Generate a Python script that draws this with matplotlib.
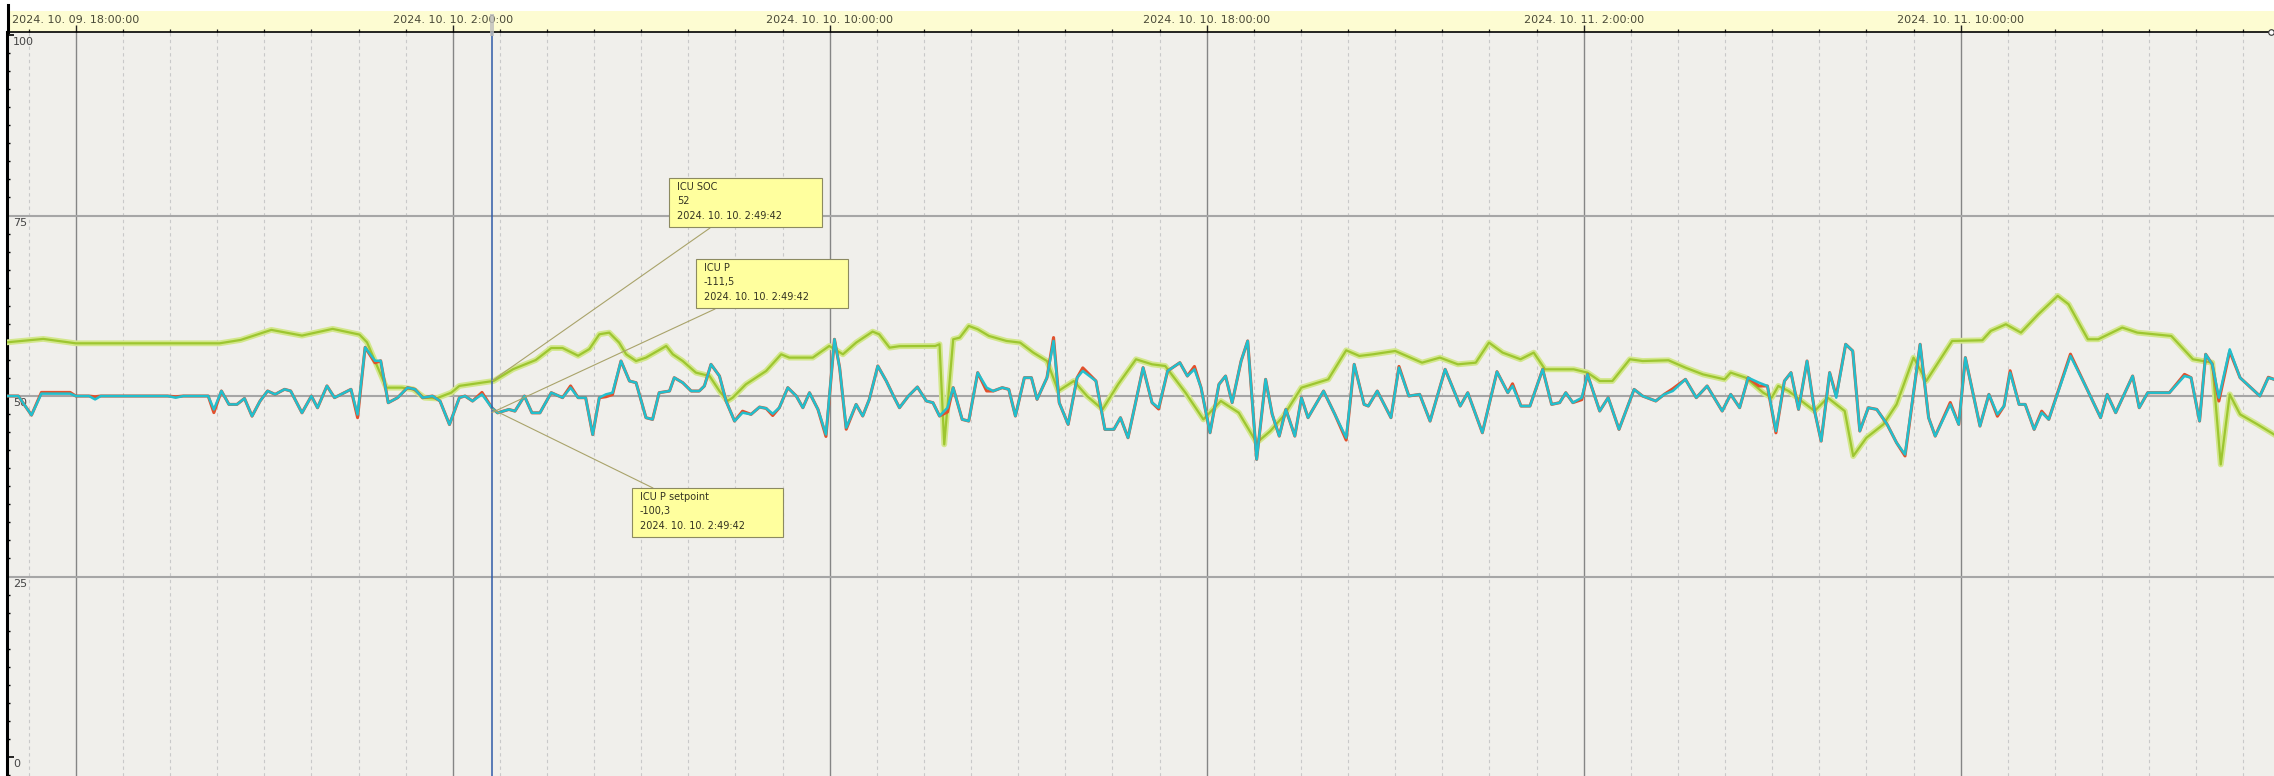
import pandas as pd
import matplotlib
matplotlib.use('Agg')
import matplotlib.pyplot as plt
import matplotlib.dates as mdates
from matplotlib.ticker import MultipleLocator, FuncFormatter
from matplotlib.patches import Rectangle
from matplotlib.lines import Line2D

# time axis: hours counted from 2024-10-09 18:00:00
t0 = pd.Timestamp('2024-10-09 18:00:00')
view_hours = (-1.46, 46.65)
cursor_time = pd.Timestamp('2024-10-10 02:49:42')

soc_hours = [-1.46, -0.69, 0.0, 3.05, 3.50, 4.15, 4.80, 5.45, 6.02, 6.18, 6.59, 6.92, 7.16, 7.40,
             7.65, 7.97, 8.14, 8.87, 9.28, 9.76, 10.09, 10.33, 10.66, 10.90, 11.11, 11.32, 11.53,
             11.68, 11.89, 12.10, 12.53, 12.67, 12.88, 13.16, 13.45, 13.66, 13.83, 13.94, 14.22,
             14.65, 14.97, 15.14, 15.64, 15.99, 16.28, 16.56, 16.91, 17.05, 17.27, 17.48, 18.24,
             18.33, 18.43, 18.62, 18.76, 18.95, 19.14, 19.38, 19.75, 20.04, 20.32, 20.61, 20.85,
             21.18, 21.46, 21.79, 22.12, 22.50, 22.84, 23.12, 23.55, 23.93, 24.30, 24.68, 25.06,
             25.35, 25.63, 26.01, 26.58, 26.96, 27.24, 27.53, 28.00, 28.57, 28.95, 29.33, 29.71,
             29.99, 30.28, 30.66, 30.94, 31.18, 31.79, 32.08, 32.34, 32.61, 32.98, 33.25, 33.80,
             34.16, 34.53, 34.99, 35.12, 35.44, 35.81, 35.99, 36.13, 36.35, 36.90, 37.18, 37.54,
             37.72, 38.00, 38.36, 38.64, 39.00, 39.27, 39.82, 40.46, 40.64, 40.96, 41.28, 41.65,
             42.06, 42.29, 42.70, 42.92, 43.43, 43.75, 44.47, 44.93, 45.34, 45.52, 45.71, 45.93,
             46.30, 46.65]
soc = [57.44, 57.91, 57.30, 57.30, 57.77, 59.16, 58.37, 59.30, 58.51, 57.44, 51.16, 51.16, 50.93, 49.77,
       49.67, 50.47, 51.40, 52.09, 53.72, 54.98, 56.65, 56.65, 55.58, 56.51, 58.55, 58.78, 57.40,
       55.78, 54.85, 55.32, 56.93, 55.78, 54.85, 53.24, 52.77, 50.69, 49.31, 49.77, 51.62,
       53.47, 55.78, 55.32, 55.32, 56.93, 55.78, 57.40, 58.92, 58.55, 56.70, 56.90, 56.93,
       57.17, 43.30, 57.86, 58.09, 59.71, 59.25, 58.32, 57.63, 57.40, 56.01, 54.85, 50.69,
       52.08, 50.00, 48.15, 51.62, 55.09, 54.39, 54.16, 50.46, 46.76, 49.31, 47.69, 43.53,
       45.15, 47.23, 51.16, 52.31, 56.33, 55.55, 55.78, 56.24, 54.62, 55.32, 54.39, 54.62,
       57.40, 56.01, 55.09, 56.01, 53.70, 53.70, 53.24, 52.08, 52.08, 55.09, 54.85, 54.95,
       53.93, 53.00, 52.31, 53.24, 52.54, 50.46, 49.77, 51.39, 50.69, 47.92, 49.77, 47.92,
       41.68, 44.22, 46.07, 48.84, 55.32, 52.08, 57.63, 57.72, 59.02, 59.94, 58.78, 61.33,
       63.87, 62.71, 57.86, 57.86, 59.48, 58.78, 58.32, 55.09, 54.62, 40.52, 50.23, 47.46,
       46.07, 44.68]

p_hours = [-1.46, -1.22, -0.94, -0.73, -0.12, 0.00, 0.28, 0.41, 0.53, 1.95, 2.12, 2.28, 2.81, 2.93,
           3.09, 3.25, 3.42, 3.58, 3.74, 3.91, 4.07, 4.23, 4.43, 4.56, 4.80, 5.00, 5.13, 5.33,
           5.49, 5.70, 5.84, 5.98, 6.14, 6.35, 6.47, 6.63, 6.83, 7.04, 7.20, 7.36, 7.57, 7.73,
           7.93, 8.14, 8.26, 8.42, 8.62, 8.83, 8.95, 9.19, 9.32, 9.52, 9.68, 9.85, 10.09, 10.33,
           10.50, 10.66, 10.82, 10.97, 11.11, 11.25, 11.39, 11.57, 11.75, 11.89, 12.10, 12.24,
           12.38, 12.60, 12.70, 12.88, 13.06, 13.23, 13.34, 13.48, 13.66, 13.80, 13.98, 14.15,
           14.33, 14.51, 14.65, 14.79, 14.93, 15.11, 15.29, 15.43, 15.57, 15.75, 15.92, 16.10,
           16.21, 16.35, 16.56, 16.70, 16.84, 17.02, 17.20, 17.37, 17.48, 17.67, 17.86, 18.05,
           18.19, 18.33, 18.50, 18.62, 18.81, 18.95, 19.14, 19.33, 19.47, 19.66, 19.80, 19.94,
           20.13, 20.28, 20.40, 20.61, 20.75, 20.87, 21.06, 21.25, 21.37, 21.65, 21.84, 22.03,
           22.17, 22.33, 22.65, 22.84, 22.98, 23.17, 23.43, 23.59, 23.74, 23.88, 24.07, 24.26,
           24.40, 24.54, 24.73, 24.87, 25.06, 25.25, 25.39, 25.54, 25.68, 25.87, 26.01, 26.15,
           26.48, 26.72, 26.96, 27.13, 27.34, 27.43, 27.62, 27.91, 28.08, 28.29, 28.52, 28.74,
           29.06, 29.38, 29.54, 29.85, 30.16, 30.39, 30.49, 30.67, 30.86, 31.13, 31.32, 31.49,
           31.62, 31.77, 31.96, 32.08, 32.34, 32.52, 32.75, 33.07, 33.25, 33.53, 33.71, 33.89,
           34.16, 34.39, 34.62, 34.94, 35.12, 35.31, 35.49, 35.72, 35.90, 36.08, 36.26, 36.40,
           36.56, 36.74, 36.90, 37.04, 37.22, 37.36, 37.56, 37.71, 37.86, 38.04, 38.22, 38.44,
           38.64, 38.82, 39.14, 39.32, 39.46, 39.78, 39.96, 40.10, 40.41, 40.60, 40.78, 40.92,
           41.05, 41.24, 41.37, 41.56, 41.72, 41.87, 42.33, 42.65, 42.97, 43.11, 43.29, 43.65,
           43.79, 43.97, 44.43, 44.75, 44.89, 45.07, 45.20, 45.34, 45.48, 45.71, 45.93, 46.12,
           46.35, 46.53, 46.65]
p_setpoint = [50.00, 50.00, 47.35, 50.33, 50.33, 50.00, 50.00, 49.53, 50.00, 50.00, 49.77, 50.00, 50.00, 48.14,
              50.70, 48.84, 48.84, 49.67, 47.21, 49.30, 50.70, 50.23, 50.93, 50.70, 47.67, 50.00, 48.37, 51.40,
              49.77, 50.47, 50.93, 47.44, 56.74, 54.88, 54.88, 49.07, 49.77, 51.16, 50.93, 49.77, 50.00, 49.30,
              46.05, 49.77, 50.00, 49.30, 50.23, 48.37, 47.67, 48.14, 47.91, 50.00, 47.67, 47.67, 50.47, 49.77,
              51.16, 49.77, 49.77, 44.65, 49.77, 50.23, 50.46, 54.85, 52.08, 51.85, 47.00, 46.76,
              50.46, 50.69, 52.54, 51.85, 50.69, 50.69, 51.39, 54.39, 52.77, 49.31, 46.53, 47.69,
              47.46, 48.47, 48.29, 47.55, 48.38, 51.16, 50.00, 48.38, 50.46, 48.15, 44.68, 57.86,
              53.93, 45.61, 48.84, 47.23, 49.54, 54.16, 52.08, 49.77, 48.38, 50.00, 51.25, 49.31,
              49.08, 47.23, 48.38, 51.16, 46.76, 46.53, 53.24, 51.16, 50.69, 51.16, 50.92, 47.23,
              52.54, 52.54, 49.54, 52.54, 57.63, 49.08, 46.07, 52.54, 53.47, 52.08, 45.38, 45.38,
              47.00, 44.22, 53.93, 49.08, 48.38, 53.47, 54.62, 52.77, 53.70, 51.16, 44.91, 51.62,
              52.77, 49.08, 54.85, 57.63, 41.22, 52.31, 47.46, 44.45, 48.15, 44.45, 49.77, 47.00,
              50.69, 47.46, 44.22, 54.39, 48.84, 48.61, 50.69, 47.00, 53.93, 50.00, 50.23, 46.53,
              53.70, 48.61, 50.46, 44.91, 53.37, 50.46, 51.39, 48.61, 48.61, 53.70, 48.84, 49.08,
              50.46, 49.08, 49.77, 53.00, 47.92, 49.77, 45.38, 50.92, 50.00, 49.31, 50.23, 50.69,
              52.31, 49.77, 51.39, 47.92, 50.23, 48.38, 52.54, 51.85, 51.39, 45.15, 52.08, 53.24,
              48.15, 54.85, 47.92, 43.76, 53.24, 49.77, 57.17, 56.24, 45.15, 48.38, 48.15, 46.07,
              43.53, 41.91, 57.17, 47.00, 44.45, 48.84, 46.07, 55.32, 45.84, 50.23, 47.46, 48.61,
              53.24, 48.84, 48.84, 45.38, 47.69, 46.76, 55.55, 51.39, 47.00, 50.23, 47.69, 52.77,
              48.38, 50.46, 50.46, 52.77, 52.54, 46.53, 55.78, 54.39, 49.77, 56.47, 52.54, 51.39,
              50.00, 52.54, 52.31]
p_actual = [50.00, 50.00, 47.35, 50.50, 50.50, 50.00, 50.00, 49.90, 50.00, 50.00, 49.90, 50.00, 50.00, 47.70,
            50.70, 48.84, 48.84, 49.67, 47.21, 49.30, 50.70, 50.23, 50.93, 50.70, 47.67, 50.00, 48.37, 51.40,
            49.77, 50.47, 50.93, 47.00, 56.74, 54.60, 54.88, 49.07, 49.77, 51.16, 50.93, 49.77, 50.00, 49.30,
            46.05, 49.77, 50.00, 49.30, 50.50, 48.37, 47.67, 48.14, 47.91, 50.00, 47.67, 47.67, 50.47, 49.77,
            51.40, 49.77, 49.77, 44.65, 49.77, 49.90, 50.20, 54.85, 52.08, 51.85, 47.00, 46.76,
            50.46, 50.69, 52.54, 51.85, 50.69, 50.69, 51.39, 54.39, 52.77, 49.31, 46.53, 47.90,
            47.46, 48.47, 48.29, 47.30, 48.38, 51.16, 50.00, 48.38, 50.46, 48.15, 44.40, 57.86,
            53.93, 45.40, 48.84, 47.23, 49.54, 54.16, 52.08, 49.77, 48.38, 50.00, 51.25, 49.31,
            49.08, 47.23, 47.80, 51.16, 46.76, 46.53, 53.24, 50.70, 50.69, 51.16, 50.92, 47.23,
            52.54, 52.54, 49.54, 52.54, 58.10, 49.08, 46.07, 52.54, 53.90, 52.08, 45.38, 45.38,
            47.00, 44.22, 53.93, 49.08, 48.20, 53.47, 54.62, 52.77, 54.10, 51.16, 44.91, 51.62,
            52.77, 49.08, 54.85, 57.63, 41.22, 52.31, 47.46, 44.45, 48.15, 44.45, 49.77, 47.00,
            50.69, 47.46, 43.90, 54.39, 48.84, 48.61, 50.69, 47.00, 54.10, 50.00, 50.23, 46.53,
            53.70, 48.61, 50.46, 44.91, 53.37, 50.46, 51.70, 48.61, 48.61, 53.70, 48.84, 49.08,
            50.46, 49.08, 49.50, 53.00, 47.92, 49.77, 45.38, 50.92, 50.00, 49.31, 50.23, 51.00,
            52.31, 49.77, 51.39, 47.92, 50.23, 48.38, 52.54, 51.39, 51.39, 44.90, 52.08, 53.24,
            48.15, 54.85, 47.92, 43.76, 53.24, 50.00, 57.17, 56.24, 45.15, 48.38, 48.15, 46.07,
            43.53, 41.70, 57.17, 47.00, 44.45, 49.10, 46.07, 55.32, 45.84, 50.23, 47.20, 48.61,
            53.50, 48.84, 48.84, 45.38, 47.90, 46.76, 55.80, 51.39, 47.00, 50.23, 47.69, 52.77,
            48.38, 50.46, 50.46, 53.00, 52.54, 46.53, 55.78, 54.39, 49.30, 56.20, 52.54, 51.39,
            50.00, 52.60, 52.31]

y_labels = [0, 25, 50, 75, 100]
note_titles = ['ICU SOC', 'ICU P', 'ICU P setpoint']
note_values = ['52', '-111,5', '-100,3']
note_levels = [52.09, 47.7, 48.2]
note_stamp = '2024. 10. 10. 2:49:42'

# layout (pixels from top-left of the image)
W, H = 2274, 776
AX_LEFT, AX_TOP = 7, 32
note_boxes = [(669, 178, 822, 227), (696, 259, 848, 308), (632, 488, 783, 537)]
note_leaders = [(710, 228), (715, 309), (653, 488)]


def hours_to_time(hours):
    return t0 + pd.to_timedelta(hours, unit='h')


def stamp(x, pos=None):
    d = mdates.num2date(x)
    return f'{d.year}. {d.month:02d}. {d.day:02d}. {d.hour}:{d.minute:02d}:{d.second:02d}'


plt.rcParams['font.family'] = ['DejaVu Sans']

fig = plt.figure(figsize=(W / 100, H / 100), dpi=100, facecolor='white')

# yellow time band above the plot (behind the axes so tick labels sit on it)
band = fig.add_axes([(AX_LEFT + 1) / W, (H - AX_TOP) / H, 1, 21 / H], zorder=-1)
band.set_facecolor('#FDFCD2')
band.set_axis_off()
band.add_patch(Rectangle((0, 0), 1, 1, transform=band.transAxes, facecolor='#FDFCD2', edgecolor='none'))

ax = fig.add_axes([AX_LEFT / W, 0, 1 - AX_LEFT / W, (H - AX_TOP) / H], zorder=1)
ax.set_facecolor('#F0EFEB')
fig.add_artist(Line2D([(AX_LEFT + 0.5) / W] * 2, [(H - AX_TOP) / H, (H - 5) / H],
                      transform=fig.transFigure, color='black', lw=2.2))

soc_t = hours_to_time(soc_hours)
p_t = hours_to_time(p_hours)

ax.plot(soc_t, soc, color='#D3E78C', lw=4.2, solid_joinstyle='round', zorder=3)
ax.plot(soc_t, soc, color='#9DC630', lw=1.6, solid_joinstyle='round', zorder=4)
ax.plot(p_t, p_actual, color='#E2502C', lw=2.2, zorder=5)
ax.plot(p_t, p_setpoint, color='#22BFCD', lw=1.8, zorder=6)

ax.set_xlim(hours_to_time(view_hours[0]), hours_to_time(view_hours[1]))
ax.set_ylim(-2.63, 100.42)

# x axis on top
ax.xaxis.tick_top()
ax.xaxis.set_major_locator(mdates.HourLocator(byhour=[2, 10, 18]))
ax.xaxis.set_minor_locator(mdates.HourLocator())
ax.xaxis.set_major_formatter(FuncFormatter(stamp))
ax.tick_params(axis='x', which='major', direction='out', length=5, width=1.0, pad=0,
               labelsize=8, labelcolor='#4A4A38', color='#222222')
ax.tick_params(axis='x', which='minor', direction='out', length=2.2, width=0.9, color='#222222')
ax.grid(axis='x', which='major', color='#858585', lw=1.0, zorder=1)
ax.grid(axis='x', which='minor', color='#C9C9C9', lw=0.8, ls=(0, (3, 3)), zorder=1)

# y axis: ticks inside, labels drawn under each major tick
ax.yaxis.set_major_locator(MultipleLocator(25))
ax.yaxis.set_minor_locator(MultipleLocator(2.5))
ax.tick_params(axis='y', which='major', direction='in', length=5, width=1.2, labelleft=False)
ax.tick_params(axis='y', which='minor', direction='in', length=2.2, width=1.0)
for v in [25, 50, 75]:
    ax.axhline(v, color='#A6A6A6', lw=1.5, zorder=2)
for v in y_labels:
    ax.annotate(str(v), xy=(0, v), xycoords=('axes fraction', 'data'), xytext=(6, -2),
                textcoords='offset pixels', ha='left', va='top', fontsize=8, color='#444444')

for side in ['right', 'bottom']:
    ax.spines[side].set_visible(False)
ax.spines['left'].set_linewidth(2.2)
ax.spines['top'].set_linewidth(1.2)

# cursor
ax.axvline(cursor_time, color='#2F5BA8', lw=1.1, zorder=7)
cx = ax.transData.transform((mdates.date2num(cursor_time), 0))[0]
fig.patches.append(Rectangle((cx - 2, H - 36), 4, 22, transform=None,
                             facecolor='#BDBDBD', edgecolor='none', alpha=0.8, zorder=3))
fig.add_artist(Line2D([W - 3], [H - AX_TOP], transform=None, marker='o', ms=4,
                      mfc='white', mec='#333333', mew=0.8))

# readout notes
for title, val, lvl, box, lead in zip(note_titles, note_values, note_levels, note_boxes, note_leaders):
    x0, y0, x1, y1 = box
    ax.annotate('', xy=(cursor_time, lvl), xytext=(lead[0], H - lead[1]), textcoords='figure pixels',
                arrowprops=dict(arrowstyle='-', color='#A9A36A', lw=0.8, shrinkA=0, shrinkB=0), zorder=8)
    fig.patches.append(Rectangle((x0, H - y1), x1 - x0, y1 - y0, transform=None,
                                 facecolor='#FFFF9E', edgecolor='#8C8A60', lw=0.8, zorder=9))
    fig.text((x0 + 8) / W, (H - y0 - 4) / H, f'{title}\n{val}\n{note_stamp}', ha='left', va='top',
             fontsize=7, color='#333322', linespacing=1.55, zorder=10)

fig.savefig('out.png', dpi=100, facecolor='white')
